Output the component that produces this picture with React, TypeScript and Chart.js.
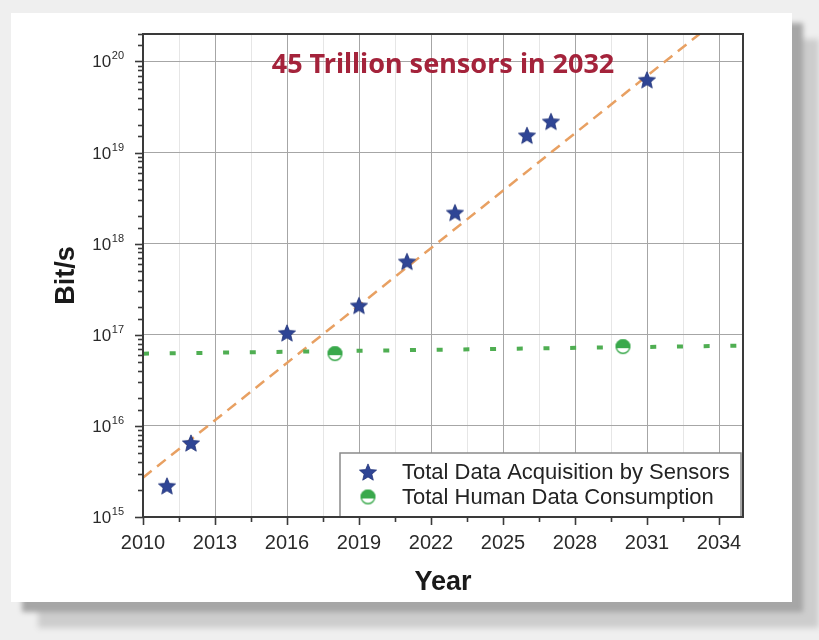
import React, { useEffect, useRef } from "react";
import { Chart, registerables } from "chart.js";

Chart.register(...registerables);

// Measured / projected data rates (bit/s) per year
const sensorYears = [2011, 2012, 2016, 2019, 2021, 2023, 2026, 2027, 2031];
const sensorRates = [2.2e15, 6.5e15, 1.05e17, 2.1e17, 6.4e17, 2.2e18, 1.55e19, 2.2e19, 6.3e19];
const humanYears = [2018, 2030];
const humanRates = [6.2e16, 7.4e16];

// Trend lines (end points)
const sensorTrendYears = [2010, 2035];
const sensorTrendRates = [2.7e15, 4.8e20];
const humanTrendYears = [2010, 2035];
const humanTrendRates = [6.2e16, 7.6e16];

const xMin = 2010;
const xMax = 2035;
const xStep = 1.5;
const xLabelEvery = 3;
const xLastLabel = 2034;
const yMin = 1e15;
const yMax = 2e20;

const sensorLabel = "Total Data Acquisition by Sensors";
const humanLabel = "Total Human Data Consumption";
const headline = "45 Trillion sensors in 2032";
const xTitle = "Year";
const yTitle = "Bit/s";

const SANS = "'Liberation Sans', Arial, sans-serif";

const STAR_BLUE = "#2f4595";
const DISC_GREEN = "#3aa94c";

function makeStar(r: number, color: string): HTMLCanvasElement {
  const c = document.createElement("canvas");
  const s = Math.ceil(r * 2 + 4);
  c.width = s;
  c.height = s;
  const g = c.getContext("2d")!;
  g.translate(s / 2, s / 2 + r * 0.1);
  g.beginPath();
  for (let i = 0; i < 10; i++) {
    const rad = i % 2 === 0 ? r : r * 0.45;
    const ang = -Math.PI / 2 + (i * Math.PI) / 5;
    g.lineTo(rad * Math.cos(ang), rad * Math.sin(ang));
  }
  g.closePath();
  g.fillStyle = color;
  g.fill();
  g.strokeStyle = "#23357a";
  g.lineWidth = 0.8;
  g.stroke();
  return c;
}

function makeHalfDisc(r: number, color: string): HTMLCanvasElement {
  const c = document.createElement("canvas");
  const s = Math.ceil(r * 2 + 4);
  c.width = s;
  c.height = s;
  const g = c.getContext("2d")!;
  g.translate(s / 2, s / 2);
  g.beginPath();
  g.arc(0, 0, r, 0, Math.PI * 2);
  g.fillStyle = "#ffffff";
  g.fill();
  g.save();
  g.beginPath();
  g.arc(0, 0, r, 0, Math.PI * 2);
  g.clip();
  g.fillStyle = color;
  g.fillRect(-r, -r, 2 * r, r + 1.5);
  g.restore();
  g.beginPath();
  g.arc(0, 0, r - 0.7, 0, Math.PI * 2);
  g.strokeStyle = color;
  g.lineWidth = 1.4;
  g.stroke();
  return c;
}

const isMajorYear = (v: number) => {
  const k = (v - xMin) / xLabelEvery;
  return Math.abs(k - Math.round(k)) < 1e-6;
};
const isDecade = (v: number) => {
  const l = Math.log10(v);
  return Math.abs(l - Math.round(l)) < 1e-6;
};

export default function App() {
  const canvasRef = useRef<HTMLCanvasElement | null>(null);

  useEffect(() => {
    const canvas = canvasRef.current;
    if (!canvas) return;
    const starImg = makeStar(9, STAR_BLUE);
    const discImg = makeHalfDisc(7.5, DISC_GREEN);

    const decor = {
      id: "decor",
      afterDraw(chart: any) {
        const { ctx, chartArea: a } = chart;
        const xs = chart.scales.x;
        const ys = chart.scales.y;
        ctx.save();

        // headline
        ctx.fillStyle = "#a4233b";
        ctx.font = `bold 27px 'Noto Sans', 'Open Sans', sans-serif`;
        ctx.textAlign = "center";
        ctx.textBaseline = "alphabetic";
        ctx.fillText(headline, (a.left + a.right) / 2, a.top + 39);

        // legend box
        const lw = 401;
        const lh = 64;
        const lx = a.right - 2 - lw;
        const ly = a.bottom - lh;
        ctx.fillStyle = "#ffffff";
        ctx.fillRect(lx, ly, lw, lh);
        ctx.strokeStyle = "#8a8a8a";
        ctx.lineWidth = 1.5;
        ctx.strokeRect(lx, ly, lw, lh);
        const rows = [
          { img: starImg, text: sensorLabel },
          { img: discImg, text: humanLabel },
        ];
        ctx.font = `22px ${SANS}`;
        ctx.fillStyle = "#232323";
        ctx.textAlign = "left";
        ctx.textBaseline = "middle";
        rows.forEach((r, i) => {
          const cy = ly + 19 + i * 25;
          ctx.drawImage(r.img, lx + 28 - r.img.width / 2, cy - r.img.height / 2);
          ctx.fillText(r.text, lx + 62, cy + 1);
        });

        // frame
        ctx.strokeStyle = "#3a3a3a";
        ctx.lineWidth = 2;
        ctx.strokeRect(a.left, a.top, a.right - a.left, a.bottom - a.top);

        // x tick marks
        ctx.lineWidth = 1.6;
        ctx.strokeStyle = "#3a3a3a";
        xs.ticks.forEach((t: any) => {
          if (t.value > xLastLabel + 0.5) return;
          const px = Math.round(xs.getPixelForValue(t.value)) + 0.5;
          ctx.beginPath();
          ctx.moveTo(px, a.bottom);
          ctx.lineTo(px, a.bottom + (isMajorYear(t.value) ? 8 : 5));
          ctx.stroke();
        });

        // y tick marks and labels
        ys.ticks.forEach((t: any) => {
          const py = Math.round(ys.getPixelForValue(t.value)) + 0.5;
          if (py < a.top - 1) return;
          const major = isDecade(t.value);
          ctx.beginPath();
          ctx.moveTo(a.left, py);
          ctx.lineTo(a.left - (major ? 8 : 5), py);
          ctx.stroke();
          if (major) {
            const exp = String(Math.round(Math.log10(t.value)));
            ctx.fillStyle = "#2a2a2a";
            ctx.textBaseline = "middle";
            ctx.textAlign = "left";
            ctx.font = `11px ${SANS}`;
            const ew = ctx.measureText(exp).width;
            const ex = a.left - 19 - ew;
            ctx.fillText(exp, ex, py - 6);
            ctx.font = `17px ${SANS}`;
            ctx.textAlign = "right";
            ctx.fillText("10", ex - 0.5, py + 1);
          }
        });

        // axis titles
        ctx.fillStyle = "#1a1a1a";
        ctx.font = `bold 27px ${SANS}`;
        ctx.textAlign = "center";
        ctx.textBaseline = "middle";
        ctx.fillText(xTitle, (a.left + a.right) / 2, a.bottom + 66);
        ctx.save();
        ctx.translate(a.left - 76, (a.top + a.bottom) / 2);
        ctx.rotate(-Math.PI / 2);
        ctx.fillText(yTitle, 0, 0);
        ctx.restore();

        ctx.restore();
      },
    };

    const chart = new Chart(canvas, {
      type: "scatter",
      data: {
        datasets: [
          {
            label: sensorLabel,
            data: sensorYears.map((x, i) => ({ x, y: sensorRates[i] })),
            pointStyle: starImg,
            pointRadius: 9,
            order: 1,
          },
          {
            label: humanLabel,
            data: humanYears.map((x, i) => ({ x, y: humanRates[i] })),
            pointStyle: discImg,
            pointRadius: 8,
            order: 1,
          },
          {
            label: "sensor trend",
            data: sensorTrendYears.map((x, i) => ({ x, y: sensorTrendRates[i] })),
            showLine: true,
            borderColor: "#e8a062",
            borderWidth: 2.5,
            borderDash: [11, 7],
            pointRadius: 0,
            order: 3,
          },
          {
            label: "human trend",
            data: humanTrendYears.map((x, i) => ({ x, y: humanTrendRates[i] })),
            showLine: true,
            borderColor: "#4fae52",
            borderWidth: 4,
            borderDash: [6, 20.7],
            pointRadius: 0,
            order: 2,
          },
        ],
      },
      options: {
        animation: false,
        responsive: false,
        maintainAspectRatio: false,
        layout: { padding: { left: 0, top: 21, right: 49, bottom: 0 } },
        plugins: {
          legend: { display: false },
          tooltip: { enabled: false },
        },
        scales: {
          x: {
            type: "linear",
            min: xMin,
            max: xMax,
            afterFit: (s: any) => {
              s.height = 85;
            },
            border: { display: false },
            grid: {
              drawTicks: false,
              lineWidth: 1,
              color: (c: any) =>
                c.tick && isMajorYear(c.tick.value) && c.tick.value <= xLastLabel
                  ? "#a6a6a6"
                  : "#e6e6e6",
            },
            ticks: {
              stepSize: xStep,
              includeBounds: false,
              autoSkip: false,
              maxRotation: 0,
              padding: 14,
              color: "#2a2a2a",
              font: { family: SANS, size: 20 },
              callback: (v: any) => {
                const n = Number(v);
                return isMajorYear(n) && n <= xLastLabel ? String(Math.round(n)) : "";
              },
            },
          },
          y: {
            type: "logarithmic",
            min: yMin,
            max: yMax,
            afterFit: (s: any) => {
              s.width = 132;
            },
            border: { display: false },
            grid: {
              drawTicks: false,
              lineWidth: 1,
              color: (c: any) => (c.tick && isDecade(c.tick.value) ? "#a6a6a6" : "rgba(0,0,0,0)"),
            },
            ticks: { display: false },
          },
        },
      },
      plugins: [decor],
    } as any);

    return () => chart.destroy();
  }, []);

  return (
    <div
      style={{
        position: "absolute",
        left: 0,
        top: 0,
        width: 819,
        height: 640,
        background: "#efefef",
        overflow: "hidden",
      }}
    >
      <div
        style={{
          position: "absolute",
          left: 11,
          top: 13,
          width: 781,
          height: 589,
          background: "#ffffff",
          boxShadow: "11px 10px 5px #a6a6a6, 27px 26px 6px #cdcdcd",
        }}
      >
        <canvas
          ref={canvasRef}
          width={781}
          height={589}
          style={{ display: "block", width: 781, height: 589 }}
        />
      </div>
    </div>
  );
}
